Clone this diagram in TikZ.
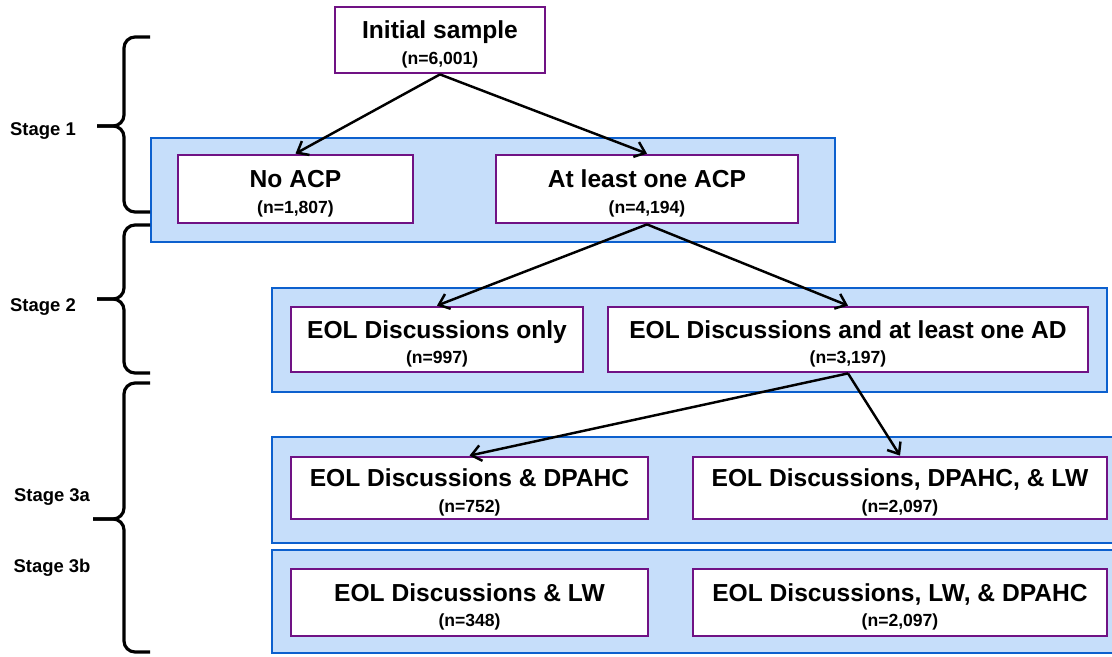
\documentclass[tikz,border=0pt]{standalone}
\usepackage{fontspec}
\setmainfont{Liberation Sans}
\usepackage{tikz}
\usetikzlibrary{arrows.meta}

\definecolor{boxpurple}{RGB}{112,18,132}
\definecolor{bandblue}{RGB}{12,96,206}
\definecolor{bandfill}{RGB}{198,222,250}

\begin{document}
\begin{tikzpicture}[x=0.02cm,y=-0.02cm,
	band/.style={rectangle,draw=bandblue,fill=bandfill,line width=1.6pt,inner sep=0pt},
	box/.style={rectangle,draw=boxpurple,fill=white,line width=1.6pt,inner sep=0pt,align=center,font=\bfseries\fontsize{14}{14.5}\selectfont},
	stage/.style={font=\bfseries\fontsize{10.5}{12}\selectfont},
	arr/.style={-{Straight Barb[length=5.5pt,width=9pt]},line width=1.4pt},
	stagebrace/.style={line width=1.8pt,rounded corners=0.22cm}]
	\useasboundingbox (0,0) rectangle (1112,656);
	
	\node[band,minimum width=13.68cm,minimum height=2.08cm] (bandone) at (493,190) {};
	\node[band,minimum width=16.7cm,minimum height=2.08cm] (bandtwo) at (689.5,340) {};
	\node[band,minimum width=16.84cm,minimum height=2.12cm] (bandthreea) at (693,490) {};
	\node[band,minimum width=16.84cm,minimum height=2.06cm] (bandthreeb) at (693,601.5) {};
	
	\node[box,minimum width=4.2cm,minimum height=1.32cm] (init) at (440,40) {\rule{0pt}{15pt}Initial sample\\{\fontsize{10}{12}\selectfont (n=6,001)}};
	\node[box,minimum width=4.7cm,minimum height=1.36cm] (noacp) at (295.5,189) {\rule{0pt}{15pt}No ACP\\{\fontsize{10}{12}\selectfont (n=1,807)}};
	\node[box,minimum width=6.04cm,minimum height=1.36cm] (acp) at (647,189) {\rule{0pt}{15pt}At least one ACP\\{\fontsize{10}{12}\selectfont (n=4,194)}};
	\node[box,minimum width=5.84cm,minimum height=1.3cm] (eolonly) at (437,339.5) {\rule{0pt}{15pt}EOL Discussions only\\{\fontsize{10}{12}\selectfont (n=997)}};
	\node[box,minimum width=9.6cm,minimum height=1.3cm] (eolad) at (848,339.5) {\rule{0pt}{15pt}EOL Discussions and at least one AD\\{\fontsize{10}{12}\selectfont (n=3,197)}};
	\node[box,minimum width=7.14cm,minimum height=1.24cm] (dpahc) at (469.5,488) {\rule{0pt}{15pt}EOL Discussions \& DPAHC\\{\fontsize{10}{12}\selectfont (n=752)}};
	\node[box,minimum width=8.28cm,minimum height=1.24cm] (dpahclw) at (900,488) {\rule{0pt}{15pt}EOL Discussions, DPAHC, \& LW\\{\fontsize{10}{12}\selectfont (n=2,097)}};
	\node[box,minimum width=7.14cm,minimum height=1.34cm] (eollw) at (469.5,602.5) {\rule{0pt}{15pt}EOL Discussions \& LW\\{\fontsize{10}{12}\selectfont (n=348)}};
	\node[box,minimum width=8.28cm,minimum height=1.34cm] (lwdpahc) at (900,602.5) {\rule{0pt}{15pt}EOL Discussions, LW, \& DPAHC\\{\fontsize{10}{12}\selectfont (n=2,097)}};
	
	\draw[arr] (init.south) -- (noacp.north);
	\draw[arr] (init.south) -- (acp.north);
	\draw[arr] (acp.south) -- (eolonly.north);
	\draw[arr] (acp.south) -- (eolad.north);
	\draw[arr] (eolad.south) -- (dpahc.north);
	\draw[arr] (eolad.south) -- (dpahclw.north);
	
	% braces on the left
	\coordinate (onetop) at (150,37);
	\coordinate (onetip) at (97,126);
	\coordinate (onebot) at (150,212);
	\coordinate (twotop) at (150,225);
	\coordinate (twotip) at (97,299);
	\coordinate (twobot) at (150,373);
	\coordinate (threetop) at (150,383);
	\coordinate (threetip) at (93,519);
	\coordinate (threebot) at (150,652);
	\draw[stagebrace] (onetop) -- (124,37) -- (124,126) -- (onetip);
	\draw[stagebrace] (onetip) -- (124,126) -- (124,212) -- (onebot);
	\draw[stagebrace] (twotop) -- (124,225) -- (124,299) -- (twotip);
	\draw[stagebrace] (twotip) -- (124,299) -- (124,373) -- (twobot);
	\draw[stagebrace] (threetop) -- (124,383) -- (124,519) -- (threetip);
	\draw[stagebrace] (threetip) -- (124,519) -- (124,652) -- (threebot);
	
	\node[stage] (stageone) at (43,131) {Stage 1};
	\node[stage] (stagetwo) at (43,307) {Stage 2};
	\node[stage] (stagethreea) at (52,497) {Stage 3a};
	\node[stage] (stagethreeb) at (52,568) {Stage 3b};
\end{tikzpicture}
\end{document}
